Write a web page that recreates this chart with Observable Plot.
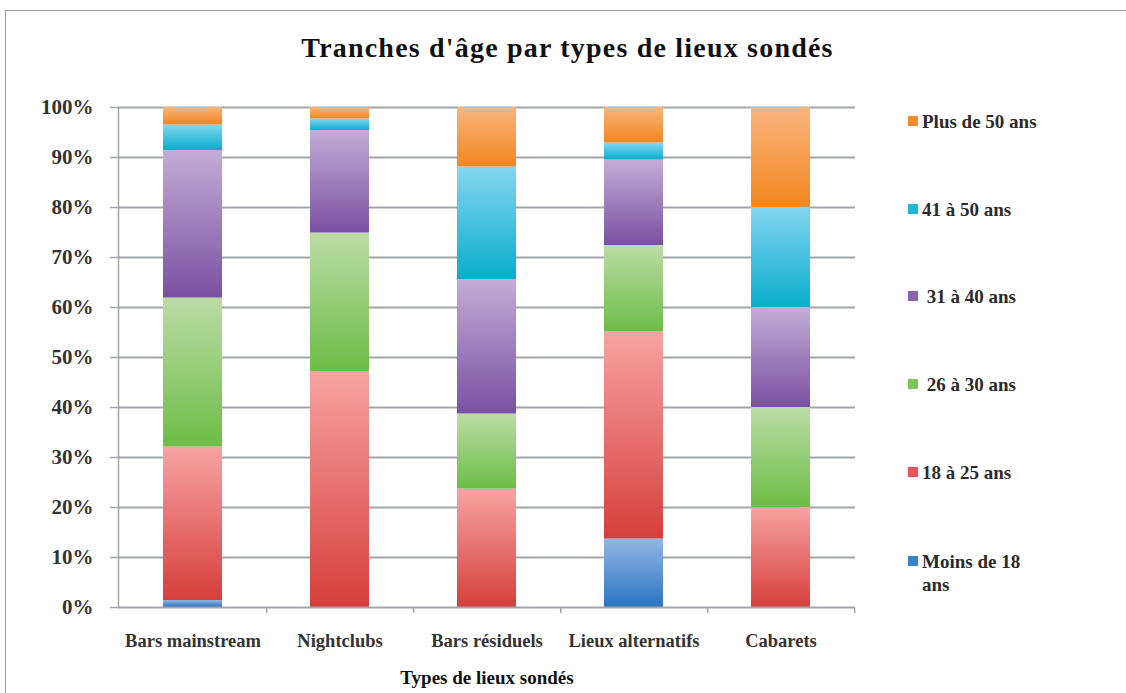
<!DOCTYPE html>
<html>
<head>
<meta charset="utf-8">
<script src="https://cdn.jsdelivr.net/npm/d3@7"></script>
<script src="https://cdn.jsdelivr.net/npm/@observablehq/plot@0.6"></script>
<style>
  html, body { margin: 0; padding: 0; background: #fff; }
  body { width: 1126px; height: 693px; position: relative; overflow: hidden; font-family: "Liberation Serif", serif; }
  #frame { position: absolute; left: 5px; top: 10px; width: 1140px; height: 700px; border: 1.5px solid #9a9a9a; box-sizing: border-box; }
  #title { position: absolute; left: 0; top: 0; width: 1126px; height: 90px; }
  #title div { position: absolute; left: 280px; width: 575px; top: 32px; text-align: center; font-weight: bold; font-size: 28px; letter-spacing: 1.2px; color: #111; white-space: nowrap; }
  #chart { position: absolute; left: 0; top: 90px; }
  #legend { position: absolute; left: 908px; top: 0; }
  .item { position: absolute; left: 0; font-weight: bold; font-size: 19px; color: #2a2a2a; white-space: nowrap; line-height: 23px; }
  .sw { display: inline-block; width: 10px; height: 10px; margin-right: 4px; vertical-align: 2px; }
</style>
</head>
<body>
<div id="frame"></div>
<div id="title"><div>Tranches d'âge par types de lieux sondés</div></div>
<div id="chart"></div>
<div id="legend"></div>
<script>
const categories = ["Bars mainstream", "Nightclubs", "Bars résiduels", "Lieux alternatifs", "Cabarets"];
const ageGroups = ["Moins de 18 ans", "18 à 25 ans", "26 à 30 ans", "31 à 40 ans", "41 à 50 ans", "Plus de 50 ans"];
const moins18 = [1.4, 0, 0, 13.7, 0];
const a18to25 = [30.7, 47.2, 23.7, 41.4, 20];
const a26to30 = [29.8, 27.7, 15.0, 17.3, 20];
const a31to40 = [29.5, 20.5, 26.9, 17.1, 20];
const a41to50 = [5.1, 2.3, 22.5, 3.4, 20];
const plus50 = [3.5, 2.3, 11.9, 7.1, 20];
const yTicks = [0, 10, 20, 30, 40, 50, 60, 70, 80, 90, 100];

const series = [moins18, a18to25, a26to30, a31to40, a41to50, plus50];
const gradTop = ["#92b6e4", "#f7a3a3", "#bcdca6", "#c4acd7", "#84d6f1", "#f9b57e"];
const gradBottom = ["#2a74c2", "#d63f3b", "#6cbd45", "#7a50a2", "#08adcc", "#f3861d"];
const swatch = ["#3b82cc", "#e8555a", "#7dc55a", "#8a63b0", "#20b7d6", "#f58b2a"];

const data = [];
ageGroups.forEach((g, gi) => categories.forEach((c, ci) => data.push({category: c, group: g, value: series[gi][ci]})));

const W = 1126, H = 603, mL = 118, mR = 271, mT = 17, mB = 86;
const padIn = 0.6, padOut = 0.3;
const step = (W - mL - mR) / (categories.length - padIn + 2 * padOut);
const gridColor = "#a2a5aa";

const chart = Plot.plot({
  width: W, height: H,
  marginLeft: mL, marginRight: mR, marginTop: mT, marginBottom: mB,
  style: {fontFamily: "Liberation Serif, serif", color: "#333", background: "transparent"},
  x: {domain: categories, paddingInner: padIn, paddingOuter: padOut, label: null},
  y: {domain: [0, 100], label: null},
  color: {domain: ageGroups, range: ageGroups.map((g, i) => `url(#grad${i})`)},
  marks: [
    Plot.ruleY(yTicks.filter(t => t > 0), {stroke: gridColor, strokeWidth: 2}),
    Plot.barY(data, {x: "category", y: "value", fill: "group", order: null}),
    Plot.ruleY([0], {stroke: gridColor, strokeWidth: 2}),
    Plot.frame({anchor: "left", stroke: gridColor, strokeWidth: 1.5}),
    Plot.ruleX(categories, {x: d => d, dx: step / 2, y1: 0, y2: 0, insetBottom: -6, stroke: gridColor, strokeWidth: 1.5}),
    Plot.axisY({ticks: yTicks, tickFormat: d => d + "%", tickSize: 8, tickPadding: 17, stroke: gridColor, strokeWidth: 1.5, fontSize: 21, fontWeight: "bold", label: null}),
    Plot.axisX({tickSize: 0, tickPadding: 26, fontSize: 18.5, fontWeight: "bold", label: null}),
    Plot.axisX({tickSize: 0, ticks: [], label: "Types de lieux sondés", labelAnchor: "center", labelArrow: "none", labelOffset: 76, fontSize: 19, fontWeight: "bold", fill: "#111"})
  ]
});

const svg = d3.select(chart);
const defs = svg.insert("defs", ":first-child");
ageGroups.forEach((g, i) => {
  const lg = defs.append("linearGradient").attr("id", `grad${i}`).attr("x1", 0).attr("y1", 0).attr("x2", 0).attr("y2", 1);
  lg.append("stop").attr("offset", "0%").attr("stop-color", gradTop[i]);
  lg.append("stop").attr("offset", "100%").attr("stop-color", gradBottom[i]);
});
document.getElementById("chart").appendChild(chart);

const legendY = [562, 473, 385, 297, 210, 122];
const legendText = ["Moins de 18<br>ans", "18 à 25 ans", "&nbsp;26 à 30 ans", "&nbsp;31 à 40 ans", "41 à 50 ans", "Plus de 50 ans"];
const legend = document.getElementById("legend");
ageGroups.forEach((g, i) => {
  const d = document.createElement("div");
  d.className = "item";
  d.style.top = (legendY[i] - 12) + "px";
  const lines = legendText[i].split("<br>");
  d.innerHTML = `<span class="sw" style="background:${swatch[i]}"></span>${lines[0]}` + (lines[1] ? `<br><span style="padding-left:14px">${lines[1]}</span>` : "");
  legend.appendChild(d);
});
</script>
</body>
</html>
